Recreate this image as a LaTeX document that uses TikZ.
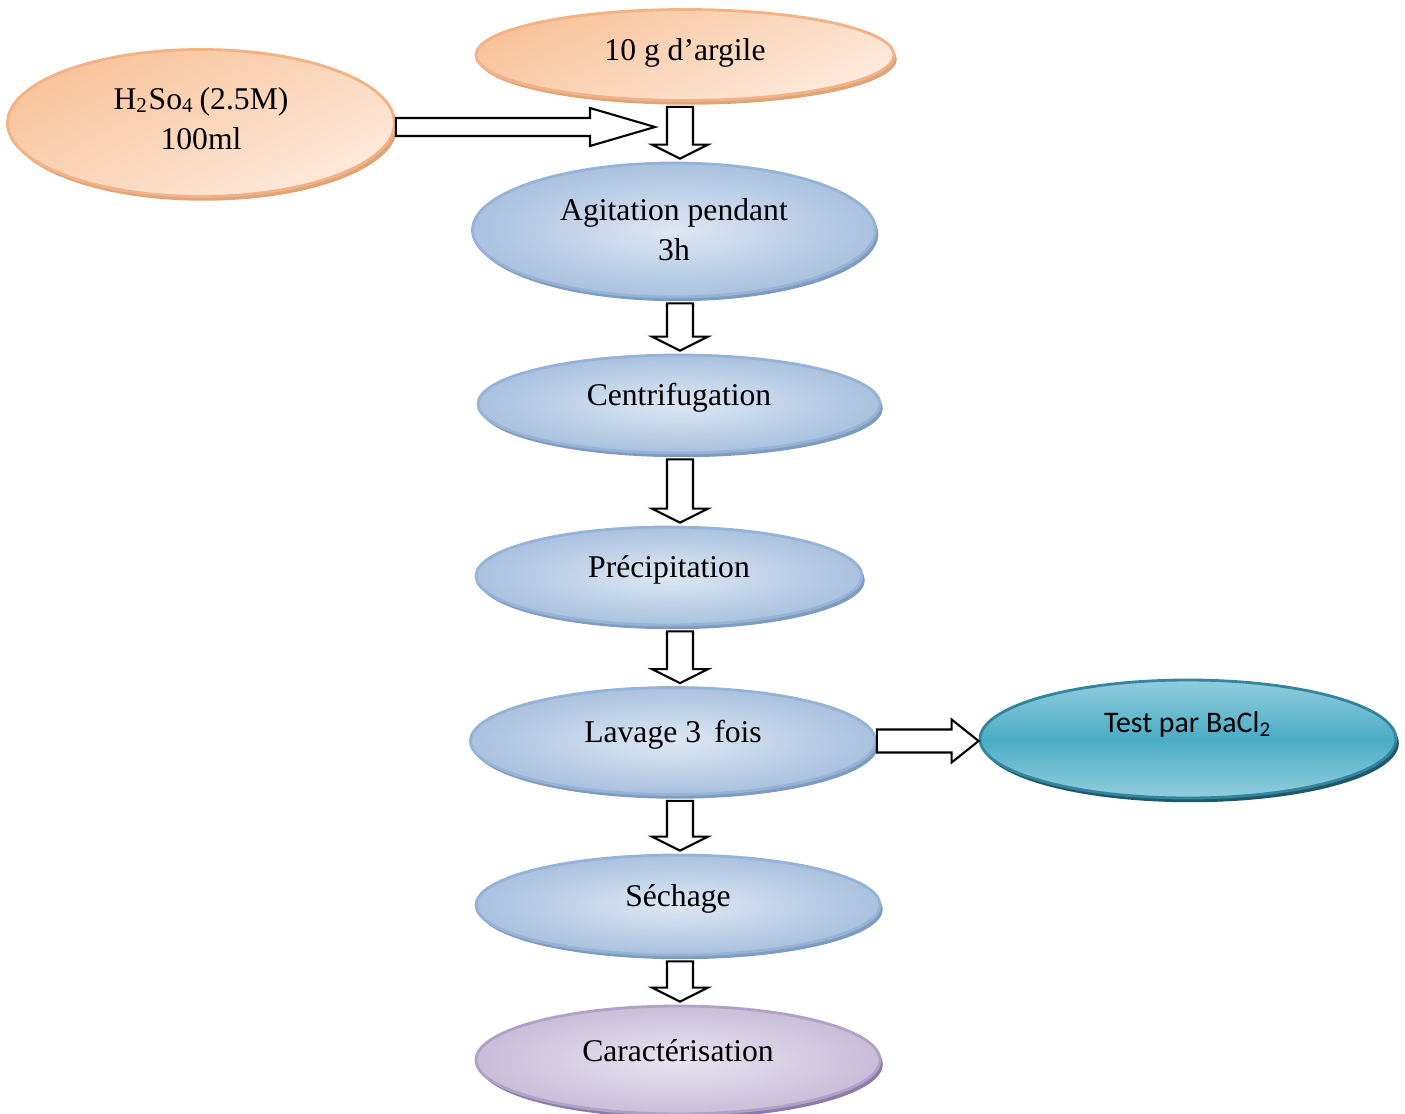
\documentclass[tikz,border=0pt]{standalone}
\usepackage{fontspec}
\setmainfont{Liberation Serif}
\newfontfamily\calibri{Carlito}
\usetikzlibrary{shapes.geometric,shadows,calc}

\definecolor{orangebord}{HTML}{F4B183}
\definecolor{orangefonce}{HTML}{F8C299}
\definecolor{orangeclair}{HTML}{FDEADC}
\definecolor{orangeombre}{HTML}{DDA57A}
\definecolor{bleubord}{HTML}{95B3D7}
\definecolor{bleufonce}{HTML}{A9C1DF}
\definecolor{bleuclair}{HTML}{DEE7F3}
\definecolor{bleuombre}{HTML}{7F9BBF}
\definecolor{turqbord}{HTML}{31859C}
\definecolor{turqfonce}{HTML}{4BACC6}
\definecolor{turqclair}{HTML}{92CDDC}
\definecolor{turqombre}{HTML}{215868}
\definecolor{violetbord}{HTML}{B2A1C7}
\definecolor{violetfonce}{HTML}{C9BDD9}
\definecolor{violetclair}{HTML}{E8E3EF}
\definecolor{violetombre}{HTML}{8E7CA8}

\tikzset{
  bulle/.style={ellipse, inner sep=0pt, line width=0.8pt, align=center,
    font=\fontsize{9}{11.4}\selectfont},
  relevee/.style={text depth=#1},
  produit/.style={bulle, draw=orangebord, top color=orangefonce,
    bottom color=orangeclair, shading angle=25,
    drop shadow={shadow xshift=0.8pt, shadow yshift=-1.2pt, fill=orangeombre, opacity=1}},
  etape/.style={bulle, draw=bleubord, inner color=bleuclair, outer color=bleufonce,
    drop shadow={shadow xshift=0.8pt, shadow yshift=-1.2pt, fill=bleuombre, opacity=1}},
  controle/.style={bulle, draw=turqbord, top color=turqclair, bottom color=turqclair,
    middle color=turqfonce, font=\calibri\fontsize{8.5}{10}\selectfont,
    drop shadow={shadow xshift=0.8pt, shadow yshift=-1.2pt, fill=turqombre, opacity=1}},
  final/.style={bulle, draw=violetbord, inner color=violetclair, outer color=violetfonce,
    drop shadow={shadow xshift=0.8pt, shadow yshift=-1.2pt, fill=violetombre, opacity=1}},
  flechebas/.style={draw, fill=white, line width=0.6pt, to path={
    let \p1=(\tikztostart), \p2=(\tikztotarget) in
    (\x1-0.13cm,\y1-0.05cm) -- (\x1-0.13cm,\y2+0.17cm) -- (\x1-0.28cm,\y2+0.17cm)
    -- (\x1,\y2+0.03cm) -- (\x1+0.28cm,\y2+0.17cm) -- (\x1+0.13cm,\y2+0.17cm)
    -- (\x1+0.13cm,\y1-0.05cm) -- cycle}},
  flechedroite/.style n args={3}{draw, fill=white, line width=0.6pt, to path={
    let \p1=(\tikztostart), \p2=(\tikztotarget) in
    (\x1,\y1-#1) -- (\x2-#3,\y1-#1) -- (\x2-#3,\y1-#2) -- (\x2,\y1)
    -- (\x2-#3,\y1+#2) -- (\x2-#3,\y1+#1) -- (\x1,\y1+#1) -- cycle}},
}

\begin{document}
\begin{tikzpicture}
	\useasboundingbox (0,0) rectangle (14.05,11.13);
	\coordinate (axe) at (6.80,0);
	\coordinate (entree) at (6.55,9.86);

	% produits de depart
	\node [produit, minimum width=4.18cm, minimum height=0.91cm, relevee=0.11cm] (argile) at (6.85,10.58) {10 g d’argile};
	\node [produit, minimum width=3.87cm, minimum height=1.47cm, relevee=0.09cm] (acide) at (2.01,9.90) {H\textsubscript{2}So\textsubscript{4}\,(2.5M)\\100ml};

	% etapes
	\node [etape, minimum width=4.03cm, minimum height=1.34cm] (agit) at (6.74,8.83) {Agitation pendant\\3h};
	\node [etape, minimum width=4.02cm, minimum height=0.98cm, relevee=0.19cm] (centri) at (6.79,7.09) {Centrifugation};
	\node [etape, minimum width=3.86cm, minimum height=0.98cm, relevee=0.19cm] (precip) at (6.69,5.37) {Précipitation};
	\node [etape, minimum width=4.05cm, minimum height=1.07cm, relevee=0.19cm] (lavage) at (6.73,3.72) {Lavage 3\, fois};
	\node [controle, minimum width=4.16cm, minimum height=1.18cm, relevee=0.34cm] (test) at (11.88,3.74) {Test par BaCl\textsubscript{2}};
	\node [etape, minimum width=4.04cm, minimum height=1.00cm, relevee=0.19cm] (sechage) at (6.78,2.08) {Séchage};
	\node [final, minimum width=4.04cm, minimum height=1.08cm, relevee=0.19cm] (carac) at (6.78,0.53) {Caractérisation};

	% fleches
	\draw [flechedroite={0.09cm}{0.19cm}{0.65cm}] (acide.east |- entree) to (entree);
	\draw [flechebas] (argile.south -| axe) to (agit.north -| axe);
	\draw [flechebas] (agit.south -| axe) to (centri.north -| axe);
	\draw [flechebas] (centri.south -| axe) to (precip.north -| axe);
	\draw [flechebas] (precip.south -| axe) to (lavage.north -| axe);
	\draw [flechebas] (lavage.south -| axe) to (sechage.north -| axe);
	\draw [flechebas] (sechage.south -| axe) to (carac.north -| axe);
	\draw [flechedroite={0.115cm}{0.215cm}{0.27cm}] (lavage.east) to (test.west);
\end{tikzpicture}
\end{document}
